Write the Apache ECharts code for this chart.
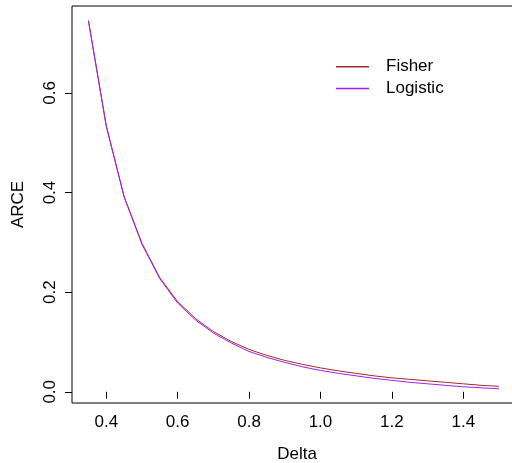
<!DOCTYPE html>
<html>
<head>
<meta charset="utf-8">
<script src="https://cdn.jsdelivr.net/npm/echarts@6/dist/echarts.min.js"></script>
<style>
  html, body { margin: 0; padding: 0; background: #fff; }
  #chart { width: 512px; height: 463px; }
</style>
</head>
<body>
<div id="chart"></div>
<script>
  // delta values on x
  var delta = [0.35, 0.40, 0.45, 0.50, 0.55, 0.60, 0.65, 0.70, 0.75, 0.80, 0.85, 0.90,
               0.95, 1.00, 1.05, 1.10, 1.15, 1.20, 1.25, 1.30, 1.35, 1.40, 1.45, 1.50]
  // ARCE, Fisher
  var fisher = [0.745, 0.534, 0.392, 0.298, 0.229, 0.181, 0.147, 0.121, 0.101, 0.085, 0.073, 0.063,
                0.055, 0.048, 0.042, 0.037, 0.032, 0.028, 0.025, 0.022, 0.019, 0.016, 0.013, 0.011]
  // ARCE, Logistic
  var logistic = [0.745, 0.533, 0.391, 0.296, 0.227, 0.178, 0.144, 0.118, 0.098, 0.081, 0.069, 0.059,
                  0.050, 0.043, 0.037, 0.032, 0.027, 0.023, 0.019, 0.016, 0.013, 0.010, 0.008, 0.006]
  var xTicks = [0.4, 0.6, 0.8, 1.0, 1.2, 1.4]
  var yTicks = [0.0, 0.2, 0.4, 0.6]

  var font = 'Liberation Sans, Arial, sans-serif'

  function pairs(xs, ys) {
    return xs.map(function (x, i) { return [x, ys[i]] })
  }

  var chart = echarts.init(document.getElementById('chart'), null, { renderer: 'canvas' })
  chart.setOption({
    animation: false,
    backgroundColor: '#fff',
    textStyle: { fontFamily: font },
    // right side of the box runs past the picture, as in the original
    grid: {
      left: 72,
      top: 6,
      width: 450,
      height: 397,
      outerBoundsMode: 'none',
      show: true,
      borderColor: '#000',
      borderWidth: 1,
      backgroundColor: 'transparent'
    },
    legend: {
      orient: 'vertical',
      left: 331,
      top: 51,
      icon: 'rect',
      itemWidth: 33,
      itemHeight: 1.5,
      itemGap: 0,
      textStyle: {
        fontFamily: font,
        fontSize: 17,
        color: '#000',
        lineHeight: 21.6,
        padding: [0, 0, 0, 12]
      },
      data: ['Fisher', 'Logistic']
    },
    xAxis: {
      type: 'value',
      min: 0.304,
      max: 1.5645,
      name: 'Delta',
      nameLocation: 'middle',
      nameGap: 43,
      nameTextStyle: { fontFamily: font, fontSize: 17, color: '#000' },
      axisLine: { show: false },
      splitLine: { show: false },
      axisTick: {
        show: true,
        length: 7,
        customValues: xTicks,
        lineStyle: { color: '#000', width: 1 }
      },
      axisLabel: {
        fontFamily: font,
        fontSize: 17,
        color: '#000',
        margin: 11,
        customValues: xTicks,
        formatter: function (v) { return v.toFixed(1) }
      }
    },
    yAxis: {
      type: 'value',
      min: -0.0225,
      max: 0.7745,
      name: 'ARCE',
      nameLocation: 'middle',
      nameGap: 45,
      nameRotate: 90,
      nameTextStyle: { fontFamily: font, fontSize: 17, color: '#000' },
      axisLine: { show: false },
      splitLine: { show: false },
      axisTick: {
        show: true,
        length: 7,
        customValues: yTicks,
        lineStyle: { color: '#000', width: 1 }
      },
      axisLabel: {
        fontFamily: font,
        fontSize: 17,
        color: '#000',
        margin: 13,
        rotate: 90,
        customValues: yTicks,
        formatter: function (v) { return v.toFixed(1) }
      }
    },
    series: [
      {
        name: 'Fisher',
        type: 'line',
        data: pairs(delta, fisher),
        showSymbol: false,
        symbol: 'none',
        color: '#A52A2A',
        lineStyle: { color: '#A52A2A', width: 1 }
      },
      {
        name: 'Logistic',
        type: 'line',
        data: pairs(delta, logistic),
        showSymbol: false,
        symbol: 'none',
        color: '#A020F0',
        lineStyle: { color: '#A020F0', width: 1 }
      }
    ]
  })
</script>
</body>
</html>
